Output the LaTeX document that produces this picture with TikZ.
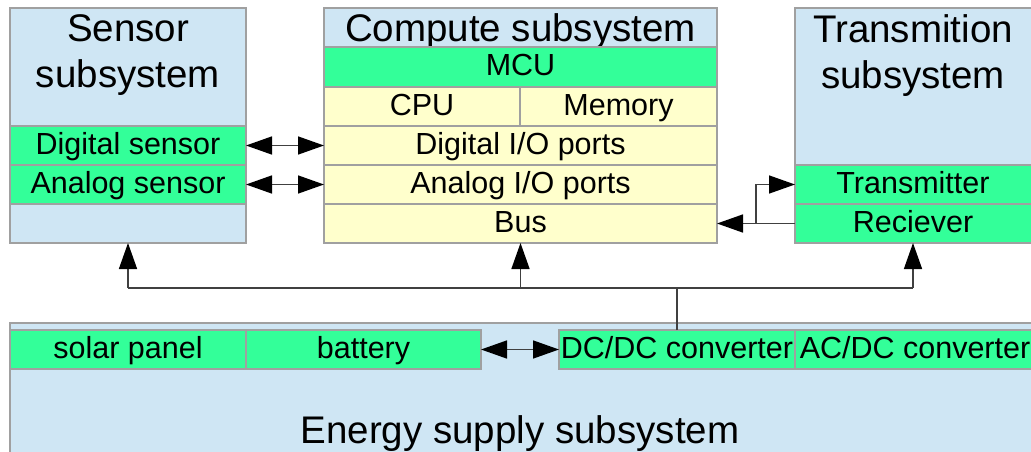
\documentclass[tikz,border=0pt]{standalone}
\usepackage{fontspec}
\setmainfont{Liberation Sans}
\usetikzlibrary{arrows.meta,calc}

\definecolor{subblue}{RGB}{207,230,244}
\definecolor{cellgreen}{RGB}{51,255,153}
\definecolor{cellyellow}{RGB}{255,255,204}
\definecolor{edgegray}{RGB}{160,160,160}
\definecolor{wiregray}{RGB}{64,64,64}

\tikzset{
  box/.style={draw=edgegray, line width=1.6pt, inner sep=0pt, outer sep=0pt, anchor=north west},
  subsys/.style={box, fill=subblue},
  cell/.style={box, font=\fontsize{30.5}{36}\selectfont, text height=22pt, text depth=5pt},
  greencell/.style={cell, fill=cellgreen},
  yellowcell/.style={cell, fill=cellyellow},
  title/.style={align=center, font=\fontsize{38.5}{46}\selectfont, inner sep=0pt},
  wire/.style={draw=wiregray, line width=1.5pt},
  tip/.tip={Triangle[length=26pt,width=18pt,color=black]},
  arr/.style={wire, -tip},
  biarr/.style={wire, tip-tip},
}

\begin{document}
\begin{tikzpicture}[x=1pt,y=-1pt]
\useasboundingbox (0,0) rectangle (1031,452);

% Energy supply subsystem (runs past the lower and right edges)
\node[subsys, minimum width=1030pt, minimum height=140pt] (energy) at (10,323) {};
\node[title, anchor=base] (energytitle) at (520,443) {Energy supply subsystem};
\node[greencell, minimum width=236pt, minimum height=39pt] (solar) at (10,330) {solar panel};
\node[greencell, minimum width=235pt, minimum height=39pt] (battery) at (246,330) {battery};
\node[greencell, minimum width=236pt, minimum height=39pt] (dcdc) at (559,330) {DC/DC converter};
\node[greencell, minimum width=240pt, minimum height=39pt] (acdc) at (795,330) {AC/DC converter};

% Sensor subsystem
\node[subsys, minimum width=236pt, minimum height=235pt] (sensor) at (10,8) {};
\node[title] (sensortitle) at (128,55.5) {Sensor\\subsystem};
\node[greencell, minimum width=236pt, minimum height=39pt] (dsensor) at (10,126) {Digital sensor};
\node[greencell, minimum width=236pt, minimum height=39pt] (asensor) at (10,165) {Analog sensor};

% Compute subsystem
\node[subsys, minimum width=393pt, minimum height=235pt] (compute) at (324,8) {};
\node[title, anchor=base] (computetitle) at (520.5,42) {Compute subsystem};
\node[greencell, minimum width=393pt, minimum height=40pt] (mcu) at (324,47) {MCU};
\node[yellowcell, minimum width=196pt, minimum height=39pt] (cpu) at (324,87) {CPU};
\node[yellowcell, minimum width=197pt, minimum height=39pt] (mem) at (520,87) {Memory};
\node[yellowcell, minimum width=393pt, minimum height=39pt] (dio) at (324,126) {Digital I/O ports};
\node[yellowcell, minimum width=393pt, minimum height=39pt] (aio) at (324,165) {Analog I/O ports};
\node[yellowcell, minimum width=393pt, minimum height=39pt] (bus) at (324,204) {Bus};

% Transmission subsystem
\node[subsys, minimum width=240pt, minimum height=235pt] (trans) at (795,8) {};
\node[title] (transtitle) at (913,55.5) {Transmition\\subsystem};
\node[greencell, minimum width=240pt, minimum height=39pt] (tx) at (795,165) {};
\node[greencell, minimum width=240pt, minimum height=39pt] (rx) at (795,204) {};
\node[cell, anchor=center, draw=none] (txlabel) at (913,184.5) {Transmitter};
\node[cell, anchor=center, draw=none] (rxlabel) at (913,223.5) {Reciever};

% Data links
\draw[biarr] (dsensor.east) -- (dio.west);
\draw[biarr] (asensor.east) -- (aio.west);
\draw[arr] (rx.west) -- (bus.east);
\coordinate (branch) at ($(rx.west)!0.5!(bus.east)$);
\draw[arr] (branch) |- (tx.west);
\draw[biarr] (battery.east) -- (dcdc.west);

% Power distribution
\draw[wire] (dcdc.north) -- ++(0,-42) coordinate (pj);
\coordinate (transbottom) at (913,243);
\draw[wire] (sensor.south |- pj) -- (transbottom |- pj);
\draw[arr] (sensor.south |- pj) -- (sensor.south);
\draw[arr] (compute.south |- pj) -- (compute.south);
\draw[arr] (transbottom |- pj) -- (transbottom);
\end{tikzpicture}
\end{document}
